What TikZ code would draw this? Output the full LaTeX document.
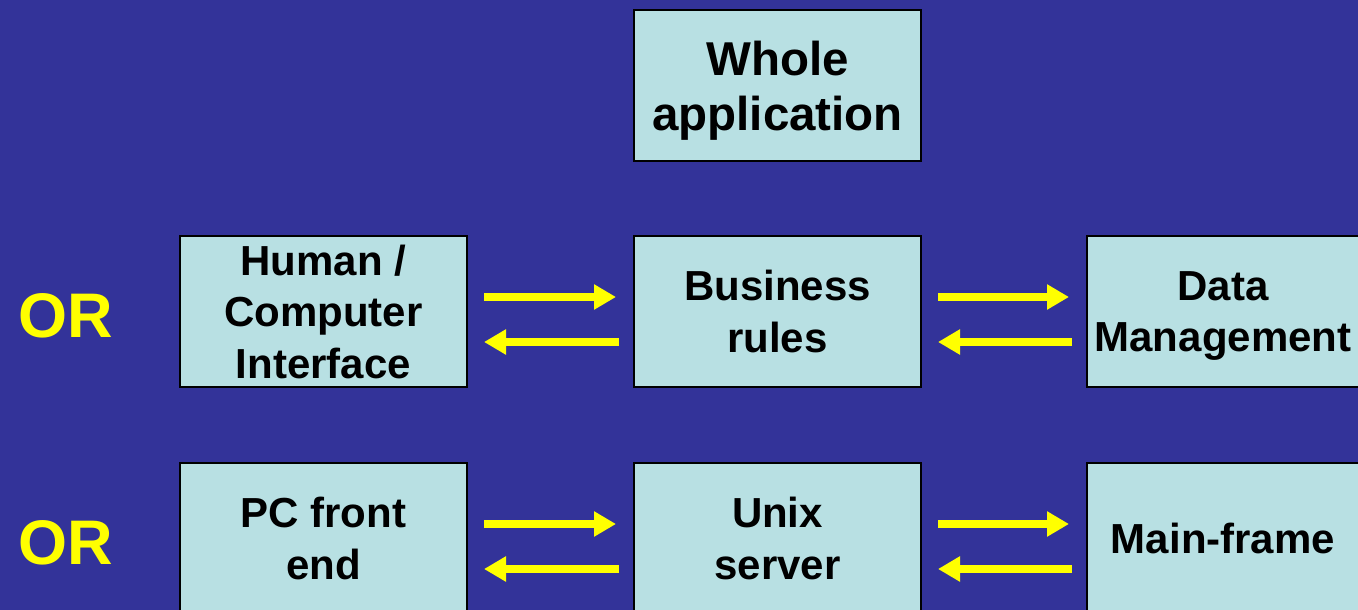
\documentclass[tikz,border=0pt]{standalone}
\usepackage{fontspec}
\setmainfont{Liberation Sans}
\usetikzlibrary{arrows.meta}
\definecolor{slidebg}{HTML}{333399}
\definecolor{boxfill}{HTML}{B8E0E3}
\definecolor{arrowyellow}{HTML}{FFFF00}
\begin{document}
\begin{tikzpicture}[x=1pt,y=-1pt,
  tier/.style={draw=black, line width=2pt, fill=boxfill, minimum width=287pt,
    minimum height=151pt, inner sep=0pt, align=center, text depth=0pt,
    font=\fontsize{42}{51.5}\selectfont\bfseries},
  ortext/.style={text=arrowyellow, font=\fontsize{63}{70}\selectfont\bfseries},
  flow/.style={draw=arrowyellow, line width=8pt,
    -{Triangle[length=22pt,width=24pt]}}]
  \useasboundingbox (0,0) rectangle (1358,610);
  \fill[slidebg] (0,0) rectangle (1358,610);
  \clip (0,0) rectangle (1358,610);

  % top: single-tier
  \node[tier, font=\fontsize{47.5}{55}\selectfont\bfseries] (whole) at (777.5,85.5) {Whole\\application};

  % middle row: logical tiers
  \node[ortext] (or1) at (66,316) {OR};
  \node[tier] (hci) at (323.5,311.5) {Human /\\Computer\\Interface};
  \node[tier] (biz) at (777.5,311.5) {Business\\rules};
  \node[tier, minimum width=272pt] (data) at (1223,311.5) {Data\\Management};

  % bottom row: physical tiers
  \node[ortext] (or2) at (66,543) {OR};
  \node[tier] (pc) at (323.5,538.5) {PC front\\end};
  \node[tier] (unix) at (777.5,538.5) {Unix\\server};
  \node[tier, minimum width=272pt] (mf) at (1223,538.5) {Main-frame};

  % request / response arrows
  \foreach \a/\b in {hci/biz, biz/data, pc/unix, unix/mf}{
    \draw[flow] ([xshift=16pt,yshift=14.5pt]\a.east) -- ([xshift=-17pt,yshift=14.5pt]\b.west);
    \draw[flow] ([xshift=-14pt,yshift=-30.5pt]\b.west) -- ([xshift=16pt,yshift=-30.5pt]\a.east);
  }
\end{tikzpicture}
\end{document}
